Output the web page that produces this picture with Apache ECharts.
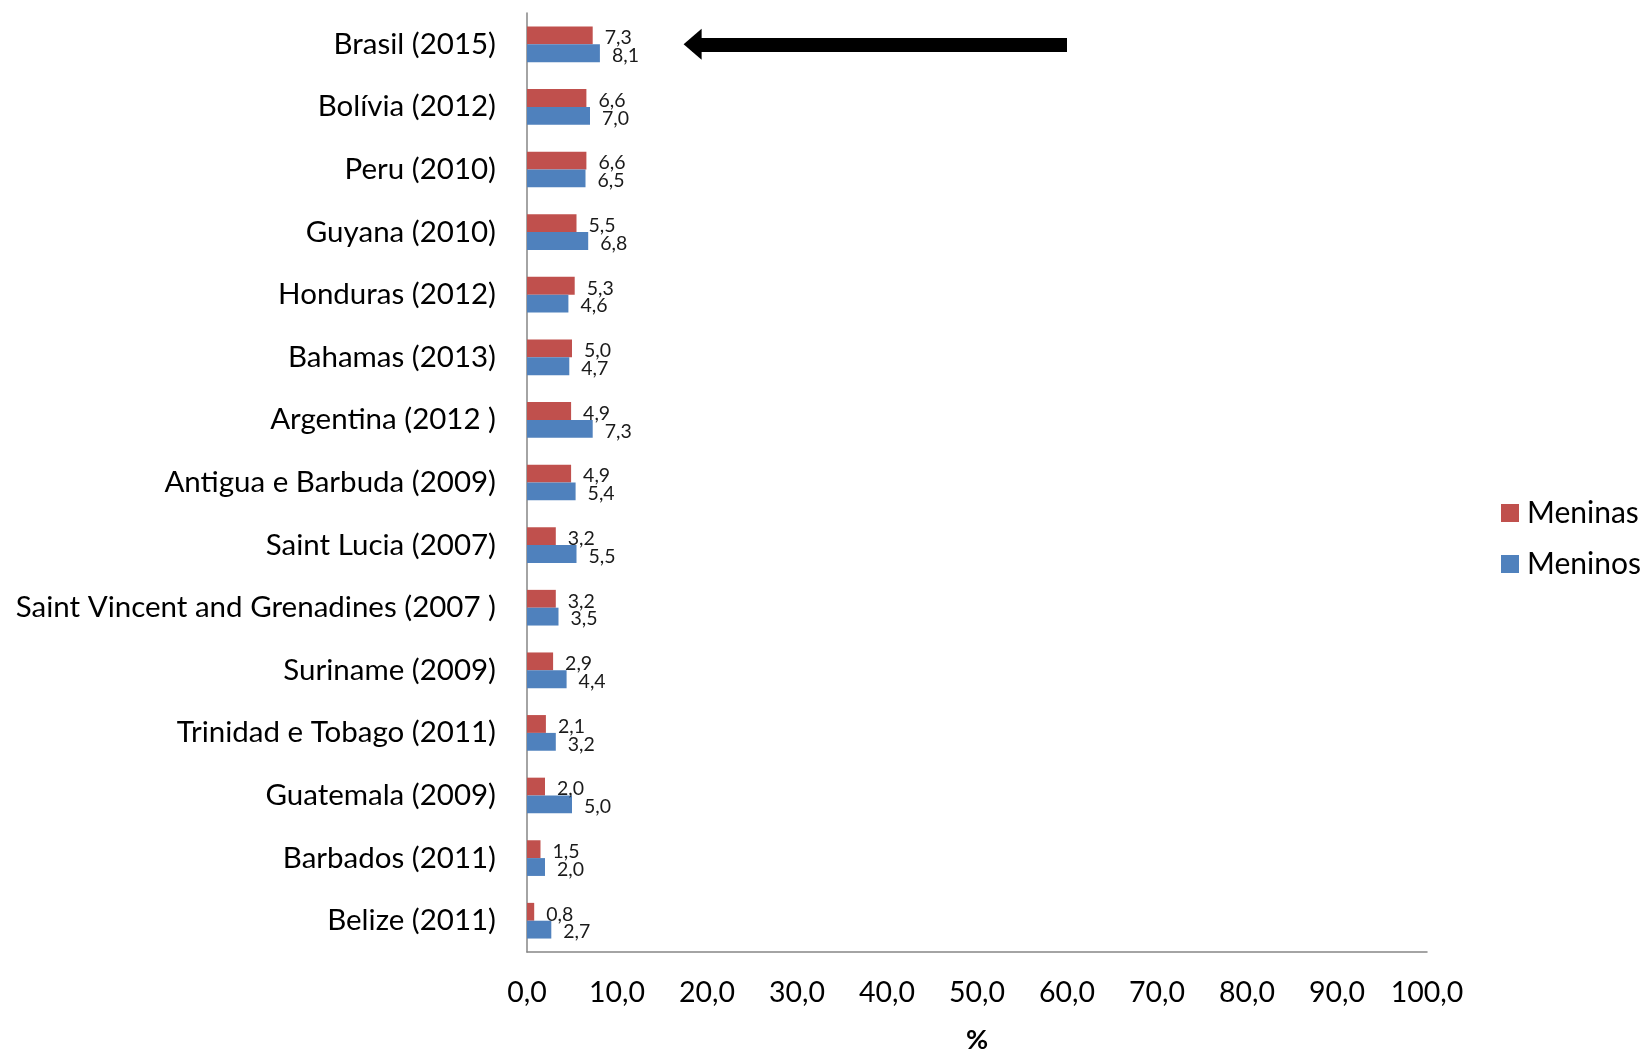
<!DOCTYPE html>
<html>
<head>
<meta charset="utf-8">
<script src="https://cdn.jsdelivr.net/npm/echarts@6/dist/echarts.min.js"></script>
<style>
html,body{margin:0;padding:0;background:#fff;overflow:hidden;}
#chart{width:1645px;height:1051px;}
</style>
</head>
<body>
<div id="chart"></div>
<script>
// Data (top to bottom)
const categories = [
  'Brasil (2015)', 'Bolívia (2012)', 'Peru (2010)', 'Guyana (2010)', 'Honduras (2012)',
  'Bahamas (2013)', 'Argentina (2012 )', 'Antigua e Barbuda (2009)', 'Saint Lucia (2007)',
  'Saint Vincent and Grenadines (2007 )', 'Suriname (2009)', 'Trinidad e Tobago (2011)',
  'Guatemala (2009)', 'Barbados (2011)', 'Belize (2011)'
];
const meninas = [7.3, 6.6, 6.6, 5.5, 5.3, 5.0, 4.9, 4.9, 3.2, 3.2, 2.9, 2.1, 2.0, 1.5, 0.8];
const meninos = [8.1, 7.0, 6.5, 6.8, 4.6, 4.7, 7.3, 5.4, 5.5, 3.5, 4.4, 3.2, 5.0, 2.0, 2.7];
const seriesNames = ['Meninas', 'Meninos'];
const xTicks = { min: 0, max: 100, interval: 10 };
const arrowFrom = 60;   // tail of the annotation arrow (x value)
const arrowTo = 18.4;   // head position (x value)

const FONT = 'Lato, "Open Sans", sans-serif';
const fmt = v => v.toFixed(1).replace('.', ',');

const chart = echarts.init(document.getElementById('chart'), null, { renderer: 'canvas' });
const labelCfg = {
  show: true, position: 'right', distance: 12, offset: [0, 2.5],
  fontFamily: FONT, fontSize: 19.5, color: '#1a1a1a',
  formatter: p => fmt(p.value)
};
chart.setOption({
  animation: false,
  backgroundColor: '#ffffff',
  textStyle: { fontFamily: FONT },
  grid: { left: 527, right: 218, top: 13, bottom: 99, containLabel: false, outerBoundsMode: 'none' },
  legend: {
    orient: 'vertical', left: 1501, top: 498, padding: 0,
    itemWidth: 18, itemHeight: 18, itemGap: 21,
    icon: 'rect',
    textStyle: { fontFamily: FONT, fontSize: 30, color: '#000', padding: [0, 0, 0, 3] },
    data: seriesNames
  },
  xAxis: {
    type: 'value', min: xTicks.min, max: xTicks.max, interval: xTicks.interval,
    name: '%', nameLocation: 'middle', nameGap: 75,
    nameTextStyle: { fontFamily: FONT, fontSize: 27, fontWeight: 'bold', color: '#000' },
    axisLine: { show: true, lineStyle: { color: '#868686', width: 1.5 } },
    axisTick: { show: false },
    splitLine: { show: false },
    axisLabel: { fontFamily: FONT, fontSize: 28.5, color: '#000', margin: 26, formatter: v => fmt(v) }
  },
  yAxis: {
    type: 'category', data: categories, inverse: true,
    axisLine: { show: true, lineStyle: { color: '#868686', width: 1.5 } },
    axisTick: { show: false },
    axisLabel: { fontFamily: FONT, fontSize: 29.5, color: '#000', margin: 31 }
  },
  series: [
    {
      name: seriesNames[0], type: 'bar', data: meninas,
      barGap: '0%', barCategoryGap: '43%',
      itemStyle: { color: '#C0504D' },
      label: labelCfg
    },
    {
      name: seriesNames[1], type: 'bar', data: meninos,
      barGap: '0%', barCategoryGap: '43%',
      itemStyle: { color: '#4F81BD' },
      label: labelCfg
    },
    {
      name: 'arrow', type: 'line', data: [], silent: true,
      markLine: {
        silent: true,
        symbol: ['none', 'triangle'],
        symbolSize: [31, 18],
        label: { show: false },
        lineStyle: { color: '#000', width: 14, type: 'solid' },
        data: [[
          { coord: [arrowFrom, categories[0]] },
          { coord: [arrowTo, categories[0]] }
        ]]
      }
    }
  ]
});
</script>
</body>
</html>
